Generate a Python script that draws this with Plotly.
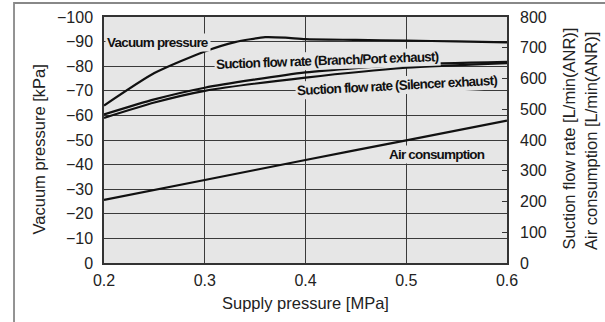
import plotly.graph_objects as go

# Supply pressure [MPa]
x_vac = [0.2, 0.25, 0.3, 0.33, 0.36, 0.38, 0.4, 0.45, 0.5, 0.55, 0.6]
vacuum_kpa = [-64, -77.2, -86.0, -89.8, -91.8, -91.6, -91.0, -90.7, -90.4, -90.1, -89.7]

x_flow = [0.2, 0.25, 0.3, 0.4, 0.5, 0.6]
flow_branch = [483, 532, 570, 620, 645, 654]
flow_silencer = [472, 522, 560, 603, 635, 650]

x_air = [0.2, 0.3, 0.4, 0.5, 0.6]
air_consumption = [205, 270, 335, 399, 463]

x_ticks = [0.2, 0.3, 0.4, 0.5, 0.6]
x_ticktext = ["0.2", "0.3", "0.4", "0.5", "0.6"]
vac_ticks = [0, -10, -20, -30, -40, -50, -60, -70, -80, -90, -100]
flow_ticks = [0, 100, 200, 300, 400, 500, 600, 700, 800]

LINE = dict(color="#111111", width=2.2, shape="spline", smoothing=0.6)
PLOT_BG = "#e6e6e6"
GRID = "#3a3a3a"
TICK_FONT = dict(family="Liberation Sans, Arial, sans-serif", size=16, color="#222222")
TITLE_FONT = dict(family="Liberation Sans, Arial, sans-serif", size=16.5, color="#222222")
LABEL_FONT = dict(family="Liberation Sans, Arial, sans-serif", size=13.5, color="#111111")

fig = go.Figure()
fig.add_trace(go.Scatter(x=x_vac, y=vacuum_kpa, mode="lines", line=LINE, yaxis="y"))
fig.add_trace(go.Scatter(x=x_flow, y=flow_branch, mode="lines", line=LINE, yaxis="y2"))
fig.add_trace(go.Scatter(x=x_flow, y=flow_silencer, mode="lines", line=LINE, yaxis="y2"))
fig.add_trace(go.Scatter(x=x_air, y=air_consumption, mode="lines", line=LINE, yaxis="y2"))

fig.update_layout(
    width=605, height=322,
    margin=dict(l=104, r=98, t=17, b=59),
    plot_bgcolor=PLOT_BG, paper_bgcolor="white",
    showlegend=False,
    xaxis=dict(range=[0.2, 0.6], tickvals=x_ticks, ticktext=x_ticktext,
               showgrid=True, gridcolor=GRID, gridwidth=1,
               showline=True, linecolor="#333333", linewidth=1.5, mirror=True,
               ticks="", zeroline=False, tickfont=TICK_FONT, ticklabelstandoff=2,
               automargin=False),
    yaxis=dict(range=[0, -100], tickvals=vac_ticks,
               showgrid=True, gridcolor=GRID, gridwidth=1,
               showline=True, linecolor="#333333", linewidth=1.5, mirror=True,
               ticks="", zeroline=False, tickfont=TICK_FONT, ticklabelstandoff=6,
               automargin=False),
    yaxis2=dict(range=[0, 800], tickvals=flow_ticks, overlaying="y", side="right",
                showgrid=False, zeroline=False, showline=False,
                ticks="inside", ticklen=5, tickwidth=1.2, tickcolor="#333333",
                tickfont=TICK_FONT, ticklabelstandoff=12, automargin=False),
)

# Curve labels: tight, heavy lettering, boxed in the plot background so
# gridlines stop at the text
labels = [
    ("Vacuum pressure", 0.2536, -89.8, 0),
    ("Suction flow rate (Branch/Port exhaust)", 0.4218, -82.2, -2),
    ("Suction flow rate (Silencer exhaust)", 0.4908, -72.0, -3),
    ("Air consumption", 0.531, -44.3, 0),
]
for text, lx, ly, ang in labels:
    fig.add_annotation(x=lx, y=ly, xref="x", yref="y",
                       text=f"<span style='letter-spacing:-0.8px'><b>{text}</b></span>",
                       showarrow=False, font=LABEL_FONT, bgcolor=PLOT_BG,
                       borderpad=1, textangle=ang,
                       xanchor="center", yanchor="middle")

# Axis titles
titles = [
    ("Supply pressure [MPa]", 0.5012, -0.1626, 0),
    ("Vacuum pressure [kPa]", -0.1613, 0.4614, -90),
    ("Suction flow rate [L/min(ANR)]", 1.1538, 0.506, -90),
    ("Air consumption [L/min(ANR)]", 1.2084, 0.496, -90),
]
for text, tx, ty, ang in titles:
    fig.add_annotation(x=tx, y=ty, xref="paper", yref="paper", text=text,
                       showarrow=False, font=TITLE_FONT, textangle=ang,
                       xanchor="center", yanchor="middle")

# Outer frame (left and top edges)
fig.add_shape(type="path", xref="paper", yref="paper",
              path="M -0.2233,-0.2398 L -0.2233,1.0569 L 1.2432,1.0569",
              line=dict(color="#888888", width=1.8))

fig.write_html("out.html")
